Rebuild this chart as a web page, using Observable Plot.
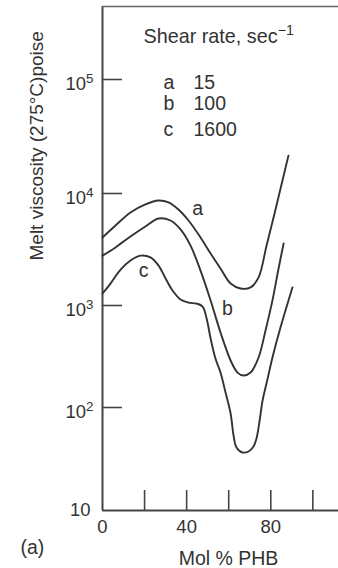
<!DOCTYPE html>
<html><head><meta charset="utf-8">
<script src="https://cdn.jsdelivr.net/npm/d3@7"></script>
<script src="https://cdn.jsdelivr.net/npm/@observablehq/plot@0.6"></script>
<style>
html,body{margin:0;padding:0;background:#fff;overflow:hidden;width:338px;height:568px}
#chart{width:338px;height:568px;overflow:hidden}
#chart svg{max-width:none !important;width:354px !important;height:568px !important;display:block}
</style></head><body><div id="chart"></div>
<script>
// Mol % PHB (x) and melt viscosity in poise (y)
const molPHB_a = [0, 6.2, 13.3, 20.4, 26.6, 31.4, 36.1, 40.9, 46.6, 51.4, 56.1, 60.9, 65.6, 70.4, 74.2, 78.0, 81.8, 85.1, 88.4];
const visc_a   = [4050, 5180, 6760, 7980, 8660, 8320, 7190, 5740, 4050, 2910, 2140, 1570, 1420, 1450, 1780, 3440, 6620, 12000, 21500];
const molPHB_b = [0, 6.2, 13.3, 20.4, 26.6, 32.3, 37.1, 41.8, 46.6, 51.4, 56.1, 60.9, 64.2, 67.0, 70.4, 74.2, 77.5, 80.8, 83.7, 86.1];
const visc_b   = [2790, 3300, 4130, 5070, 5980, 5740, 4780, 3440, 2050, 1110, 543, 289, 220, 206, 220, 309, 569, 1110, 2140, 3580];
const molPHB_c = [0, 3.8, 8.6, 13.3, 18.1, 22.8, 26.6, 30.0, 33.3, 37.1, 40.9, 44.7, 47.6, 49.5, 51.4, 53.7, 56.1, 58.5, 60.9, 62.3, 63.7, 66.6, 69.4, 71.8, 73.2, 74.7, 76.1, 78.5, 80.8, 84.6, 90.3];
const visc_c   = [1280, 1570, 2090, 2520, 2790, 2690, 2280, 1740, 1360, 1130, 1060, 1040, 977, 746, 474, 302, 220, 140, 87.5, 53.5, 40.9, 36.6, 37.4, 41.8, 50.0, 74.8, 117, 192, 309, 608, 1450];

const seriesNames = ["a", "b", "c"];
const shearRates = ["15", "100", "1600"];
// where each curve is labelled (x in mol %, y in poise)
const curveLabelX = [45.2, 59.4, 19.5];
const curveLabelV = [6370, 798, 1780];

const xTickMarks = [20, 40, 60, 80, 100];
const xTickLabels = [0, 40, 80];
const yTickMarks = [100, 1000, 10000, 100000];
const yTickLabelsPow = ["10²", "10³", "10⁴", "10⁵"];
const yBottomTick = [10];
const legendTitle = "Shear rate, sec⁻¹";
const xTitle = "Mol % PHB";
const yTitle = "Melt viscosity (275°C)poise";
const panelTag = "(a)";

const rows = [];
[[molPHB_a, visc_a], [molPHB_b, visc_b], [molPHB_c, visc_c]].forEach(([xs, vs], k) => {
  xs.forEach((x, i) => rows.push({series: seriesNames[k], x, v: vs[i]}));
});
const curveLabels = seriesNames.map((s, i) => ({s, x: curveLabelX[i], v: curveLabelV[i]}));

const ink = "#333";
const yTop = 440000;
const legendRowDy = [82, 103, 129];

const plot = Plot.plot({
  width: 354, height: 568,
  marginLeft: 102, marginRight: 0, marginTop: 6, marginBottom: 58,
  style: {fontFamily: "'Liberation Sans', Arial, Helvetica, sans-serif", color: ink, background: "#fff", overflow: "visible"},
  x: {domain: [0, 119.8], axis: null},
  y: {type: "log", domain: [10, 100, 1000, 10000, 100000, yTop], range: [510, 407, 305, 193, 79, 6], axis: null},
  marks: [
    Plot.ruleX([0], {stroke: "#444", strokeWidth: 2}),
    Plot.ruleY([10], {stroke: "#444", strokeWidth: 2}),
    Plot.ruleY([yTop], {stroke: "#666", strokeWidth: 1.5}),
    Plot.ruleX(xTickMarks, {insetTop: 484, stroke: "#444", strokeWidth: 1.6}),
    Plot.ruleY(yTickMarks, {insetRight: 232, stroke: "#444", strokeWidth: 1.6}),
    Plot.axisX(xTickLabels, {tickSize: 0, tickPadding: 9, fontSize: 18.5, label: null, tickFormat: d => String(d)}),
    Plot.axisY(yBottomTick, {tickSize: 0, tickPadding: 12, fontSize: 18.5, label: null, tickFormat: () => "10"}),
    Plot.axisY(yTickMarks, {tickSize: 0, tickPadding: 9, fontSize: 18.5, label: null, dy: 5,
      tickFormat: d => yTickLabelsPow[yTickMarks.indexOf(d)]}),
    Plot.line(rows, {x: "x", y: "v", z: "series", curve: "catmull-rom", stroke: ink, strokeWidth: 1.9}),
    Plot.text(curveLabels, {x: "x", y: "v", text: "s", fontSize: 19.5, fill: ink, lineAnchor: "bottom"}),
    Plot.text([legendTitle], {frameAnchor: "top-left", dx: 41, dy: 36, textAnchor: "start", lineAnchor: "bottom", fontSize: 19.8, fill: ink}),
    ...seriesNames.map((s, i) => Plot.text([s], {frameAnchor: "top-left", dx: 61, dy: legendRowDy[i], textAnchor: "start", lineAnchor: "bottom", fontSize: 19.5, fill: ink})),
    ...shearRates.map((r, i) => Plot.text([r], {frameAnchor: "top-left", dx: 91, dy: legendRowDy[i], textAnchor: "start", lineAnchor: "bottom", fontSize: 19.5, fill: ink})),
    Plot.text([xTitle], {frameAnchor: "bottom", dy: 54, lineAnchor: "bottom", fontSize: 19.5, fill: ink}),
    Plot.text([yTitle], {frameAnchor: "left", dx: -60, dy: 2, rotate: -90, lineAnchor: "bottom", fontSize: 19, fill: ink}),
    Plot.text([panelTag], {frameAnchor: "bottom-left", dx: -82, dy: 43, textAnchor: "start", lineAnchor: "bottom", fontSize: 19.5, fill: ink})
  ]
});
plot.style.maxWidth = "none";
document.getElementById("chart").appendChild(plot);

// render trailing unicode superscripts as raised tspans
const supMap = {"⁰":"0","¹":"1","²":"2","³":"3","⁴":"4","⁵":"5","⁶":"6","⁷":"7","⁸":"8","⁹":"9","⁻":"−"};
const ns = "http://www.w3.org/2000/svg";
plot.querySelectorAll("text").forEach(t => {
  if (t.querySelector("tspan")) return;
  const m = t.textContent.match(/^(.*?)([⁰¹²³⁴⁵⁶⁷⁸⁹⁻]+)$/);
  if (!m) return;
  t.textContent = "";
  const base = document.createElementNS(ns, "tspan");
  base.textContent = m[1];
  const sup = document.createElementNS(ns, "tspan");
  sup.textContent = [...m[2]].map(c => supMap[c]).join("");
  sup.setAttribute("font-size", "0.72em");
  sup.setAttribute("dy", "-0.55em");
  t.append(base, sup);
});
</script>
</body></html>
